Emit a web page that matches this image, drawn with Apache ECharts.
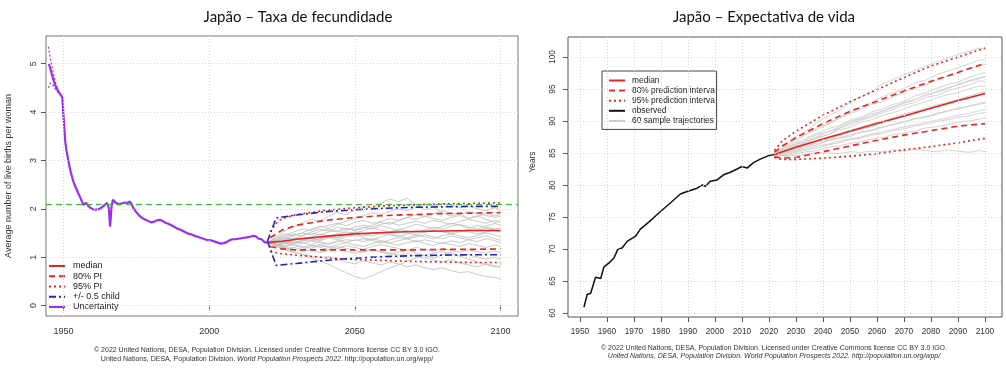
<!DOCTYPE html>
<html><head><meta charset="utf-8">
<script src="https://cdn.jsdelivr.net/npm/echarts@6/dist/echarts.min.js"></script>
<style>html,body{margin:0;padding:0;background:#fff}#c{width:1006px;height:370px}</style>
</head><body><div id="c"></div>
<script>
// ---------- texts ----------
const titleLeft = 'Japão – Taxa de fecundidade';
const titleRight = 'Japão – Expectativa de vida';
const yNameLeft = 'Average number of live births per woman';
const yNameRight = 'Years';
const footLine1 = '© 2022 United Nations, DESA, Population Division. Licensed under Creative Commons license CC BY 3.0 IGO.';
const footLine2a = 'United Nations, DESA, Population Division. ';
const footLine2b = 'World Population Prospects 2022';
const footLine2c = '. http://population.un.org/wpp/';

// ---------- tick labels ----------
const tfrTicksX = [1950, 2000, 2050, 2100];
const tfrTicksY = [0, 1, 2, 3, 4, 5];
const e0TicksX = [1950,1960,1970,1980,1990,2000,2010,2020,2030,2040,2050,2060,2070,2080,2090,2100];
const e0TicksY = [60, 65, 70, 75, 80, 85, 90, 95, 100];
const replacementLevel = 2.1;

// ---------- fertility: observed ----------
const tfrObsYears = [1945,1946,1947,1948,1949,1949.6,1950,1950.6,1951,1951.7,1952.5,1953.4,1954,1955,1956,1956.8,1957.3,1957.8,1958.5,1959.3,1960,1961,1962,1963,1964,1965,1965.6,1966,1966.5,1967,1967.6,1968,1969,1970,1971,1972,1972.8,1973.5,1974,1975,1976,1977,1978,1979,1980,1981,1982,1983,1984,1985,1986,1987,1988,1989,1990,1991,1992,1993,1994,1995,1996,1997,1998,1999,2000,2001,2002,2003,2004,2005,2006,2007,2008,2009,2010,2011,2012,2013,2014,2015,2016,2017,2018,2019,2020];
const tfrObs = [5.00,4.78,4.58,4.45,4.36,4.30,3.92,3.40,3.22,2.98,2.76,2.56,2.47,2.33,2.20,2.08,2.05,2.12,2.06,2.02,1.99,1.98,1.99,2.02,2.07,2.12,2.00,1.63,2.05,2.19,2.14,2.10,2.09,2.11,2.13,2.12,2.15,2.08,2.01,1.93,1.86,1.81,1.78,1.75,1.72,1.73,1.76,1.77,1.75,1.71,1.69,1.66,1.63,1.59,1.57,1.54,1.51,1.48,1.47,1.44,1.42,1.40,1.38,1.36,1.35,1.34,1.32,1.30,1.28,1.29,1.31,1.35,1.37,1.37,1.38,1.39,1.40,1.41,1.42,1.44,1.43,1.38,1.37,1.31,1.30];
const tfrUncYears = [1944.8,1945.5,1946.5,1947.5,1948.5];
const tfrUncHigh = [5.35,5.10,4.80,4.55,4.40];
const tfrUncLow = [4.50,4.60,4.55,4.45,4.38];

// ---------- fertility: projections ----------
const tfrMedYears = [2020,2025,2030,2040,2050,2060,2070,2080,2090,2100];
const tfrMedian = [1.30,1.33,1.37,1.43,1.48,1.51,1.53,1.54,1.55,1.55];
const tfrPIYears = [2021,2025,2030,2040,2050,2060,2070,2080,2090,2100];
const tfr80Up = [1.40,1.56,1.66,1.76,1.82,1.86,1.88,1.90,1.91,1.92];
const tfr80Low = [1.22,1.17,1.15,1.15,1.15,1.15,1.15,1.16,1.16,1.17];
const tfr95Years = [2021,2023,2025,2030,2040,2050,2060,2070,2080,2090,2100];
const tfr95Up = [1.52,1.70,1.80,1.88,1.97,2.02,2.06,2.08,2.10,2.11,2.12];
const tfr95Low = [1.12,1.09,1.07,1.04,0.99,0.95,0.93,0.91,0.90,0.89,0.89];
const tfrHalfYears = [2020,2023,2030,2040,2050,2060,2070,2080,2090,2100];
const tfrHalfUp = [1.33,1.81,1.87,1.94,1.98,2.01,2.03,2.04,2.05,2.05];
const tfrHalfLow = [1.33,0.83,0.87,0.93,0.98,1.01,1.03,1.04,1.05,1.05];
const tfrBandYears = [2020,2025,2030,2040,2050,2060,2070,2080,2090,2100];
const tfrBandLow = [1.30,1.18,1.15,1.14,1.14,1.14,1.15,1.15,1.16,1.17];
const tfrBandHigh = [1.32,1.55,1.66,1.78,1.84,1.88,1.90,1.92,1.92,1.92];

const tfrTrajYears = [2020,2023,2026,2029,2032,2035,2038,2041,2044,2047,2050,2053,2056,2059,2062,2065,2068,2071,2074,2077,2080,2083,2086,2089,2092,2095,2098,2100];
const tfrTrajectories = [
 [1.30,1.42,1.55,1.62,1.70,1.78,1.74,1.85,1.92,1.88,1.98,2.05,2.02,2.12,2.20,2.15,2.22,2.08,1.98,2.04,1.92,1.85,1.90,1.80,1.86,1.78,1.72,1.75],
 [1.30,1.22,1.15,1.10,1.06,1.02,0.98,1.01,0.95,0.90,0.86,0.92,0.88,0.84,0.90,0.86,0.80,0.84,0.78,0.74,0.78,0.72,0.68,0.70,0.64,0.60,0.58,0.55],
 [1.30,1.25,1.18,1.12,1.05,0.98,0.92,0.85,0.76,0.68,0.60,0.55,0.62,0.70,0.78,0.84,0.92,0.98,1.04,0.98,1.05,1.10,1.02,0.96,0.90,0.85,0.80,0.82],
 [1.30,1.35,1.40,1.38,1.45,1.50,1.46,1.52,1.55,1.60,1.56,1.62,1.58,1.65,1.60,1.55,1.62,1.68,1.64,1.58,1.63,1.70,1.66,1.60,1.65,1.62,1.58,1.60],
 [1.30,1.28,1.32,1.30,1.35,1.33,1.38,1.42,1.40,1.45,1.48,1.44,1.50,1.47,1.52,1.55,1.50,1.46,1.52,1.56,1.53,1.50,1.55,1.52,1.48,1.52,1.55,1.53],
 [1.30,1.38,1.45,1.52,1.58,1.55,1.62,1.66,1.70,1.65,1.72,1.76,1.70,1.74,1.80,1.76,1.82,1.78,1.85,1.80,1.76,1.82,1.86,1.80,1.84,1.90,1.85,1.88],
 [1.30,1.25,1.22,1.26,1.22,1.18,1.24,1.20,1.26,1.30,1.25,1.22,1.28,1.32,1.28,1.25,1.30,1.34,1.28,1.24,1.30,1.26,1.22,1.28,1.24,1.20,1.25,1.22],
 [1.30,1.34,1.30,1.36,1.42,1.38,1.34,1.40,1.36,1.42,1.46,1.40,1.36,1.42,1.48,1.44,1.40,1.46,1.42,1.38,1.44,1.48,1.44,1.40,1.45,1.50,1.46,1.42],
 [1.30,1.32,1.38,1.45,1.50,1.58,1.64,1.60,1.68,1.74,1.80,1.86,1.92,1.88,1.95,2.00,1.96,2.04,2.10,2.05,2.12,2.08,2.02,2.06,2.00,1.96,2.02,1.98],
 [1.30,1.26,1.20,1.16,1.12,1.15,1.10,1.14,1.18,1.12,1.08,1.12,1.16,1.10,1.06,1.10,1.14,1.08,1.04,1.08,1.12,1.06,1.02,1.05,1.00,0.96,1.00,0.95],
 [1.30,1.35,1.32,1.28,1.34,1.40,1.36,1.44,1.48,1.52,1.50,1.55,1.60,1.56,1.52,1.58,1.54,1.50,1.56,1.62,1.58,1.64,1.68,1.62,1.58,1.64,1.70,1.66],
 [1.30,1.28,1.24,1.30,1.28,1.34,1.30,1.26,1.32,1.36,1.34,1.38,1.34,1.30,1.36,1.40,1.38,1.42,1.46,1.42,1.38,1.44,1.40,1.36,1.40,1.44,1.38,1.35],
 [1.30,1.40,1.48,1.44,1.50,1.46,1.54,1.58,1.52,1.56,1.62,1.66,1.62,1.68,1.72,1.66,1.70,1.74,1.70,1.76,1.72,1.68,1.74,1.78,1.74,1.70,1.76,1.72],
 [1.30,1.22,1.18,1.20,1.16,1.22,1.26,1.22,1.18,1.24,1.20,1.16,1.22,1.26,1.22,1.18,1.14,1.20,1.16,1.12,1.18,1.14,1.10,1.15,1.12,1.08,1.12,1.10],
 [1.30,1.26,1.30,1.24,1.20,1.25,1.20,1.16,1.22,1.18,1.14,1.10,1.16,1.12,1.08,1.04,1.08,1.02,0.98,0.94,0.90,0.95,0.88,0.84,0.80,0.86,0.82,0.78],
 [1.30,1.36,1.42,1.48,1.44,1.52,1.58,1.54,1.62,1.58,1.55,1.60,1.66,1.72,1.68,1.76,1.82,1.88,1.84,1.90,1.96,1.92,1.88,1.94,1.90,1.86,1.82,1.85],
 [1.30,1.30,1.36,1.40,1.36,1.42,1.48,1.44,1.40,1.46,1.52,1.48,1.44,1.50,1.46,1.42,1.48,1.54,1.50,1.56,1.52,1.48,1.52,1.58,1.54,1.60,1.56,1.52],
 [1.30,1.24,1.28,1.34,1.30,1.26,1.32,1.28,1.34,1.30,1.36,1.32,1.38,1.34,1.30,1.34,1.38,1.32,1.36,1.32,1.28,1.34,1.30,1.36,1.32,1.38,1.34,1.30]
];

// ---------- life expectancy: observed ----------
const e0ObsYears = [1951.5,1952.7,1954,1955.8,1957.7,1958.9,1960.7,1962.6,1964,1965.7,1967.5,1970.6,1972.4,1975.5,1978.6,1980.5,1983.5,1987.2,1989.7,1993.4,1995.2,1996.5,1998.3,2000.8,2003.2,2005.7,2008.2,2010,2011.9,2014.3,2016.8,2019.9,2022];
const e0Obs = [60.9,62.9,63.1,65.6,65.4,67.2,67.8,68.6,69.9,70.2,71.2,72.0,73.1,74.2,75.4,76.1,77.2,78.6,79.0,79.5,80.0,79.8,80.6,80.8,81.6,82.0,82.5,82.9,82.65,83.5,84.05,84.6,84.75];

// ---------- life expectancy: projections ----------
const e0PIYears = [2022,2025,2030,2040,2050,2060,2070,2080,2090,2100];
const e0Median = [84.75,85.2,85.9,87.2,88.4,89.6,90.8,92.0,93.2,94.3];
const e080Up = [85.1,86.1,87.4,89.6,91.5,93.1,94.7,96.2,97.6,99.0];
const e080Low = [84.4,84.2,84.3,85.2,86.1,87.0,87.8,88.5,89.2,89.6];
const e095Up = [85.4,86.9,88.4,90.9,93.0,94.9,96.8,98.6,100.0,101.4];
const e095Low = [84.3,84.0,84.0,84.2,84.5,84.9,85.5,86.0,86.6,87.3];
const e0BandYears = [2022,2030,2040,2050,2060,2070,2080,2090,2100];
const e0BandLow = [84.7,84.9,85.8,86.8,87.6,88.4,89.1,89.8,90.3];
const e0BandHigh = [84.9,86.9,88.8,90.6,92.2,93.8,95.3,96.7,97.8];

const e0TrajYears = [2022,2026,2030,2034,2038,2042,2046,2050,2054,2058,2062,2066,2070,2074,2078,2082,2086,2090,2094,2098,2100];
const e0Trajectories = [
 [84.8,86.2,87.6,88.5,89.9,90.8,91.6,92.9,93.8,94.6,95.8,96.5,97.2,97.9,98.6,99.2,99.8,100.4,100.9,101.4,101.2],
 [84.8,85.9,86.8,88.0,88.7,89.6,90.6,91.3,92.2,92.9,93.8,94.4,95.1,95.9,96.4,97.2,97.8,98.3,98.9,99.5,99.6],
 [84.8,85.4,86.3,86.9,87.6,88.4,88.8,89.7,90.3,90.8,91.6,92.1,92.9,93.4,94.0,94.6,95.2,95.6,96.3,96.8,97.0],
 [84.8,85.6,86.0,86.8,87.3,87.9,88.6,89.0,89.8,90.2,90.9,91.3,91.9,92.5,93.0,93.6,94.1,94.4,95.0,95.5,95.4],
 [84.8,85.1,85.7,86.1,86.8,87.2,87.7,88.3,88.7,89.1,89.8,90.2,90.7,91.1,91.8,92.2,92.6,93.1,93.5,94.0,94.2],
 [84.8,85.3,85.5,86.2,86.5,87.0,87.4,87.8,88.3,88.6,89.1,89.4,89.9,90.4,90.7,91.2,91.5,92.0,92.3,92.8,92.9],
 [84.8,84.9,85.3,85.6,86.1,86.4,86.9,87.2,87.5,88.0,88.3,88.7,89.1,89.4,89.8,90.1,90.5,90.9,91.2,91.6,91.8],
 [84.8,84.6,84.9,85.2,85.4,85.9,86.1,86.5,86.8,87.2,87.4,87.9,88.1,88.4,88.9,89.1,89.4,89.8,90.0,90.3,90.5],
 [84.8,84.5,84.6,84.8,85.0,85.0,84.9,85.2,85.1,85.3,85.2,85.5,85.3,85.6,85.4,85.2,85.5,85.3,85.1,85.4,85.2],
 [84.8,85.8,86.5,87.4,88.1,88.8,89.3,90.1,90.6,91.4,91.9,92.6,93.1,93.9,94.4,95.1,95.7,96.1,96.8,97.3,97.6],
 [84.8,85.2,86.1,86.6,87.5,87.9,88.9,89.4,90.1,90.6,91.3,91.8,92.5,92.9,93.7,94.0,94.7,95.2,95.6,96.3,96.2],
 [84.8,85.0,85.4,85.9,86.3,86.9,87.3,87.6,88.2,88.5,89.0,89.5,89.8,90.3,90.6,91.0,91.6,91.9,92.3,92.6,92.8],
 [84.8,85.5,86.4,87.1,87.9,88.3,89.1,89.9,90.4,91.1,91.5,92.3,92.8,93.3,94.1,94.5,95.0,95.8,96.2,96.6,96.9],
 [84.8,84.7,85.1,85.5,85.8,86.3,86.6,87.1,87.3,87.8,88.0,88.5,88.8,89.2,89.5,89.9,90.2,90.6,90.8,91.2,91.3],
 [84.8,86.0,87.2,88.0,89.0,89.5,90.4,91.1,91.8,92.6,93.0,93.8,94.5,95.1,95.6,96.4,97.0,97.5,98.2,98.6,98.9],
 [84.8,85.2,85.8,86.4,86.9,87.5,87.8,88.6,89.0,89.6,90.0,90.5,91.1,91.5,92.0,92.5,92.9,93.3,93.9,94.4,94.6]
];

// ---------- build ----------
const FONT = 'Liberation Sans, Arial, sans-serif';
const RED = '#e3261f', BLUE = '#2222c4', PURPLE = '#9b2ff0', GREEN = '#2ec42e';
const pairs = (xs, ys) => xs.map((x, i) => [x, ys[i]]);

function ln(name, g, xs, ys, color, width, type, z) {
  return { name, type: 'line', xAxisIndex: g, yAxisIndex: g, data: pairs(xs, ys),
    symbol: 'none', showSymbol: false, silent: true, z: z || 3,
    lineStyle: { color, width, type: type || 'solid' }, itemStyle: { color } };
}
function band(g, xs, lo, hi, color, id) {
  return [
    { type: 'line', xAxisIndex: g, yAxisIndex: g, stack: id, data: pairs(xs, lo), symbol: 'none', silent: true,
      lineStyle: { width: 0, opacity: 0 }, z: 1 },
    { type: 'line', xAxisIndex: g, yAxisIndex: g, stack: id, data: pairs(xs, hi.map((h, i) => h - lo[i])), symbol: 'none', silent: true,
      lineStyle: { width: 0, opacity: 0 }, areaStyle: { color, opacity: 1 }, z: 1 }
  ];
}
function gridLines(g, xs, ys) {
  return { type: 'line', xAxisIndex: g, yAxisIndex: g, data: [], silent: true, z: 0,
    markLine: { silent: true, symbol: 'none', animation: false, label: { show: false },
      lineStyle: { color: '#d6d6d6', type: [1, 2], width: 1 },
      data: xs.map(v => ({ xAxis: v })).concat(ys.map(v => ({ yAxis: v }))) } };
}

const series = [];
// left panel
series.push(gridLines(0, tfrTicksX, tfrTicksY));
series.push(...band(0, tfrBandYears, tfrBandLow, tfrBandHigh, '#cecece', 'bandL'));
tfrTrajectories.forEach(t => series.push(ln('trajL', 0, tfrTrajYears, t, '#bdbdbd', 0.8, 'solid', 2)));
series.push(ln('median', 0, tfrMedYears, tfrMedian, RED, 1.6));
series.push(ln('80% PI', 0, tfrPIYears, tfr80Up, RED, 1.6, [6, 4]));
series.push(ln('80% PI', 0, tfrPIYears, tfr80Low, RED, 1.6, [6, 4]));
series.push(ln('95% PI', 0, tfr95Years, tfr95Up, RED, 1.6, [2, 3]));
series.push(ln('95% PI', 0, tfr95Years, tfr95Low, RED, 1.6, [2, 3]));
series.push(ln('+/- 0.5 child', 0, tfrHalfYears, tfrHalfUp, BLUE, 1.6, [7, 3, 2, 3]));
series.push(ln('+/- 0.5 child', 0, tfrHalfYears, tfrHalfLow, BLUE, 1.6, [7, 3, 2, 3]));
const uncMain = ln('Uncertainty', 0, tfrObsYears, tfrObs, PURPLE, 2.2, 'solid', 4);
uncMain.markLine = { silent: true, symbol: 'none', animation: false, label: { show: false },
  lineStyle: { color: GREEN, type: [6, 4], width: 1.2 }, data: [{ yAxis: replacementLevel }] };
series.push(uncMain);
series.push(ln('Uncertainty', 0, tfrUncYears, tfrUncHigh, PURPLE, 1.2, [2, 2], 4));
series.push(ln('Uncertainty', 0, tfrUncYears, tfrUncLow, PURPLE, 1.2, [2, 2], 4));

// right panel
series.push(gridLines(1, e0TicksX, e0TicksY));
series.push(...band(1, e0BandYears, e0BandLow, e0BandHigh, '#e4e4e4', 'bandR'));
e0Trajectories.forEach(t => series.push(ln('60 sample trajectories', 1, e0TrajYears, t, '#c9c9c9', 0.8, 'solid', 2)));
series.push(ln('observed', 1, e0ObsYears, e0Obs, '#111', 1.5));
series.push(ln('median', 1, e0PIYears, e0Median, RED, 1.6));
series.push(ln('80% prediction interval', 1, e0PIYears, e080Up, RED, 1.6, [6, 4]));
series.push(ln('80% prediction interval', 1, e0PIYears, e080Low, RED, 1.6, [6, 4]));
series.push(ln('95% prediction interval', 1, e0PIYears, e095Up, RED, 1.6, [2, 3]));
series.push(ln('95% prediction interval', 1, e0PIYears, e095Low, RED, 1.6, [2, 3]));

const plain = v => String(v);
function xAx(g, min, max, ticks) {
  return { type: 'value', gridIndex: g, min, max, axisLine: { show: false }, splitLine: { show: false },
    axisTick: { show: true, customValues: ticks, length: 5, lineStyle: { color: '#555' } },
    axisLabel: { customValues: ticks, formatter: plain, margin: 11, fontSize: g ? 8.3 : 9, color: '#333', fontFamily: FONT } };
}
function yAx(g, min, max, ticks, margin) {
  return { type: 'value', gridIndex: g, min, max, axisLine: { show: false }, splitLine: { show: false },
    axisTick: { show: true, customValues: ticks, length: 5, lineStyle: { color: '#555' } },
    axisLabel: { customValues: ticks, formatter: plain, rotate: 90, margin, fontSize: g ? 8.3 : 9, color: '#333', fontFamily: FONT } };
}

const footRich = {
  n: { fontFamily: FONT, fontSize: 7, fill: '#333', color: '#333' },
  i: { fontFamily: FONT, fontSize: 7, fontStyle: 'italic', fill: '#333', color: '#333' }
};
function foot(x, y1, y2, allItalic) {
  return [
    { type: 'text', x, y: y1, silent: true, style: { text: footLine1, font: '7px ' + FONT, fill: '#333', align: 'center', verticalAlign: 'middle' } },
    { type: 'text', x, y: y2, silent: true, style: {
      text: allItalic ? '{i|' + footLine2a + footLine2b + footLine2c + '}' : '{n|' + footLine2a + '}{i|' + footLine2b + '}{n|' + footLine2c + '}',
      rich: footRich, align: 'center', verticalAlign: 'middle' } }
  ];
}

const noSymbol = { color: 'transparent', borderWidth: 0, opacity: 0 };
const option = {
  animation: false,
  backgroundColor: '#fff',
  grid: [
    { left: 46, top: 36, width: 472, height: 280, show: true, borderColor: '#777', borderWidth: 1, backgroundColor: 'transparent' },
    { left: 568, top: 37, width: 434, height: 280, show: true, borderColor: '#555', borderWidth: 1, backgroundColor: 'transparent' }
  ],
  xAxis: [xAx(0, 1944, 2106, tfrTicksX), xAx(1, 1945.6, 2106.3, e0TicksX)],
  yAxis: [yAx(0, -0.217, 5.572, tfrTicksY, 8), yAx(1, 59.38, 103.13, e0TicksY, 11)],
  legend: [
    { orient: 'vertical', left: 48, top: 261, padding: 0, itemWidth: 16, itemHeight: 10, itemGap: 0.25,
      selectedMode: false, itemStyle: noSymbol, data: ['median', '80% PI', '95% PI', '+/- 0.5 child', 'Uncertainty'],
      textStyle: { fontFamily: FONT, fontSize: 9, lineHeight: 10, color: '#222', padding: [0, 0, 0, 3] } },
    { orient: 'vertical', left: 602, top: 71, padding: [5, 0, 4, 6], itemWidth: 16, itemHeight: 8, itemGap: 1.1,
      borderColor: '#444', borderWidth: 1, backgroundColor: '#fff', selectedMode: false, itemStyle: noSymbol,
      data: ['median', '80% prediction interval', '95% prediction interval', 'observed', '60 sample trajectories'],
      textStyle: { fontFamily: FONT, fontSize: 8.4, lineHeight: 9, color: '#222', padding: [0, 0, 0, 2],
        width: 84.6, overflow: 'truncate', ellipsis: '' } }
  ],
  graphic: [
    { type: 'text', x: 298, y: 17, silent: true, style: { text: titleLeft, font: '15px Lato, sans-serif', fill: '#111', align: 'center', verticalAlign: 'middle' } },
    { type: 'text', x: 764, y: 17, silent: true, style: { text: titleRight, font: '15px Lato, sans-serif', fill: '#111', align: 'center', verticalAlign: 'middle' } },
    { type: 'text', x: 9, y: 176, rotation: Math.PI / 2, silent: true, style: { text: yNameLeft, font: '9px ' + FONT, fill: '#333', align: 'center', verticalAlign: 'middle' } },
    { type: 'text', x: 533, y: 162, rotation: Math.PI / 2, silent: true, style: { text: yNameRight, font: '8.4px ' + FONT, fill: '#333', align: 'center', verticalAlign: 'middle' } },
    ...foot(267, 350, 359, false),
    ...foot(774, 348, 356, true)
  ],
  series
};
const chart = echarts.init(document.getElementById('c'), null, { renderer: 'canvas' });
chart.setOption(option);
</script></body></html>
